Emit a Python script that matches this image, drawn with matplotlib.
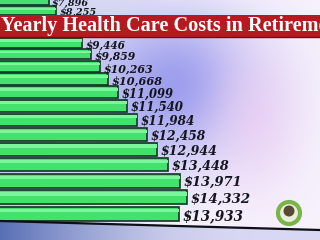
import numpy as np
import matplotlib
matplotlib.use("Agg")
import matplotlib.pyplot as plt
from matplotlib.patches import Rectangle, Circle
from matplotlib.lines import Line2D
from matplotlib.transforms import IdentityTransform

# yearly cost per year of retirement, first year on top
# (the two rows behind the banner can't be read, so they are estimates)
costs = [7896, 8255, 8650, 9045, 9446, 9859, 10263, 10668, 11099,
         11540, 11984, 12458, 12944, 13448, 13971, 14332, 13933]
rows = list(range(len(costs)))
labels = ["${:,}".format(c) for c in costs]
title = "Yearly Health Care Costs in Retirement"

# rows spread out towards the bottom, like a tilted board
k = 0.0256

def fwd(r):
    r = np.asarray(r, dtype=float)
    return r + k * r * r

def inv(f):
    f = np.asarray(f, dtype=float)
    return (-1 + np.sqrt(np.clip(1 + 4 * k * f, 0, None))) / (2 * k)

W, H = 320, 240
fig = plt.figure(figsize=(W / 100, H / 100), dpi=100)

# background haze
yy, xx = np.mgrid[0:H, 0:W].astype(float)
bg = np.ones((H, W, 3)) * np.array([0.97, 0.95, 0.99])
def tint(img, col, w):
    w = w[..., None]
    return img * (1 - w) + np.array(col) * w
bg = tint(bg, [0.72, 0.76, 0.90], np.clip(1 - xx / 170, 0, 1) * 0.9)
bg = tint(bg, [0.55, 0.56, 0.92], 0.85 * np.exp(-(((xx - 175) / 80) ** 2 + ((yy - 85) / 75) ** 2)))
bg = tint(bg, [0.93, 0.80, 0.95], 0.6 * np.exp(-(((xx - 255) / 45) ** 2 + ((yy - 120) / 70) ** 2)))
floor = yy > 221 + 9 * xx / W
fcol = np.clip(xx / 260, 0, 1)
bg = tint(bg, [0.33, 0.42, 0.70], floor * (1 - fcol) * 0.95)
bg = tint(bg, [0.82, 0.82, 0.95], floor * fcol * 0.8)
bgax = fig.add_axes([0, 0, 1, 1], zorder=-1)
bgax.imshow(bg, aspect="auto", extent=(0, 1, 0, 1), interpolation="bilinear")
bgax.axis("off")

ax = fig.add_axes([0, 0, 1, 1])
ax.patch.set_alpha(0)
ax.set_yscale("function", functions=(fwd, inv))

ax.barh(rows, costs, height=0.86, color="#43e26c", edgecolor="#123524", linewidth=1.2)
ax.barh(np.array(rows) - 0.2, costs, height=0.22, color="#7cf59c", linewidth=0)

for r, c, lab in zip(rows, costs, labels):
    ax.annotate(lab, xy=(c, r), xytext=(2.5, -1.5), textcoords="offset points",
                ha="left", va="center", color="#15151f", family="DejaVu Serif",
                weight="bold", style="italic", fontsize=6.9 * (1 + k * r))

ax.set_xlim(5640, 20490)
ax.set_ylim(17.48, -0.106)
ax.axis("off")

# floor line
fig.add_artist(Line2D([0, 1], [1 - 221 / H, 1 - 230 / H], transform=fig.transFigure,
                      color="#0e0e16", lw=1.6, zorder=3))

# title banner
fig.add_artist(Rectangle((0, 1 - 37 / H), 1, 22 / H, transform=fig.transFigure,
                         facecolor="#b51a20", edgecolor="none", zorder=5))
fig.add_artist(Line2D([0, 1], [1 - 37 / H, 1 - 37 / H], transform=fig.transFigure,
                      color="#6e0c10", lw=1, zorder=5))
fig.text(0.004, 1 - 26.5 / H, title, color="white", fontsize=14.6, family="Liberation Serif",
         weight="bold", ha="left", va="center", zorder=6)

# logo
fig.add_artist(Circle((289, H - 213), 11, transform=IdentityTransform(),
                      facecolor="#e9eed8", edgecolor="#78b44a", lw=3, zorder=4))
fig.add_artist(Circle((289, H - 211), 5.5, transform=IdentityTransform(),
                      facecolor="#5a4a34", edgecolor="none", zorder=4))

fig.savefig("out.png", dpi=100)
